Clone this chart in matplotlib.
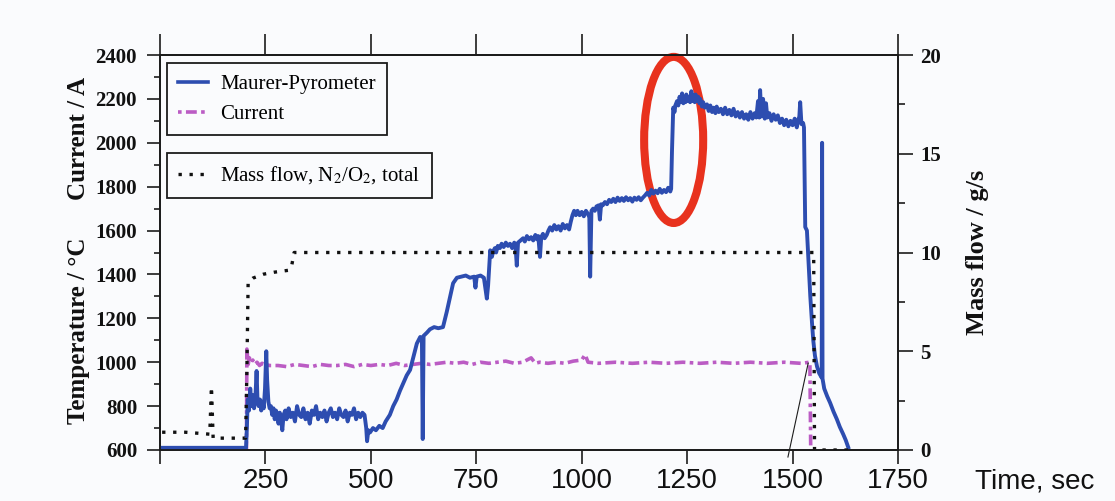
import matplotlib
matplotlib.use('Agg')
import matplotlib.pyplot as plt
from matplotlib.patches import Ellipse
from matplotlib.lines import Line2D

plt.rcParams['mathtext.fontset'] = 'stix'

# ---------------- data ----------------
# Maurer-Pyrometer temperature, (time s, degC)
temp_points = [
    (0, 610), (204, 610), (206, 700), (208, 830), (211, 780), (214, 880), (217, 800), (220, 850), (223, 790),
    (226, 830), (229, 960), (231, 840), (234, 800), (237, 830), (240, 780), (243, 820), (246, 790), (249, 880),
    (252, 1050), (254, 920), (257, 820), (260, 790), (263, 800), (266, 760), (269, 790), (272, 740), (275, 780),
    (278, 760), (281, 720), (284, 770), (287, 740), (290, 690), (293, 760), (297, 780), (300, 740), (305, 790),
    (310, 750), (315, 770), (320, 730), (325, 800), (330, 760), (335, 750), (340, 790), (345, 740), (350, 770),
    (355, 720), (360, 780), (365, 760), (370, 800), (375, 740), (380, 770), (385, 750), (390, 780), (395, 730),
    (400, 770), (405, 790), (410, 750), (415, 770), (420, 740), (425, 790), (430, 760), (435, 750), (440, 780),
    (445, 730), (450, 770), (455, 760), (460, 790), (465, 740), (470, 770), (475, 750), (480, 770), (485, 760),
    (489, 700), (491, 640), (494, 690), (498, 680), (505, 700), (512, 690), (520, 710), (528, 700), (535, 730),
    (545, 760), (553, 800), (561, 830), (569, 870), (577, 905), (585, 940), (593, 965), (601, 1025), (609, 1085),
    (617, 1115), (621, 1110), (623, 650), (625, 1120), (633, 1135), (640, 1150), (650, 1160), (660, 1155),
    (671, 1160), (676, 1200), (680, 1230), (688, 1300), (695, 1360), (704, 1385), (715, 1390), (725, 1395),
    (735, 1385), (745, 1390), (748, 1340), (751, 1390), (760, 1395), (768, 1385), (772, 1330), (775, 1290),
    (778, 1350), (783, 1510), (787, 1480), (790, 1505), (794, 1520), (797, 1500), (801, 1530), (806, 1520),
    (810, 1540), (815, 1525), (820, 1545), (825, 1530), (830, 1540), (835, 1520), (840, 1545), (843, 1530),
    (846, 1440), (849, 1545), (855, 1555), (861, 1565), (865, 1550), (870, 1575), (875, 1560), (880, 1570),
    (885, 1555), (890, 1580), (894, 1560), (897, 1575), (901, 1480), (904, 1570), (908, 1585), (912, 1565),
    (917, 1580), (921, 1600), (925, 1615), (930, 1600), (935, 1625), (940, 1605), (945, 1620), (950, 1600),
    (955, 1630), (960, 1610), (965, 1625), (970, 1605), (974, 1640), (978, 1670), (982, 1690), (986, 1670),
    (990, 1690), (995, 1670), (1000, 1685), (1005, 1665), (1010, 1690), (1015, 1675), (1018, 1660), (1020, 1390),
    (1023, 1690), (1027, 1700), (1031, 1690), (1035, 1710), (1040, 1715), (1043, 1650), (1046, 1720),
    (1050, 1715), (1055, 1730), (1060, 1720), (1065, 1740), (1070, 1730), (1075, 1745), (1080, 1730),
    (1085, 1750), (1090, 1735), (1095, 1748), (1100, 1735), (1105, 1752), (1110, 1738), (1115, 1748),
    (1120, 1732), (1125, 1750), (1130, 1740), (1135, 1752), (1140, 1738), (1145, 1750), (1150, 1760),
    (1155, 1772), (1160, 1760), (1165, 1785), (1170, 1768), (1175, 1782), (1180, 1770), (1185, 1790),
    (1190, 1772), (1195, 1785), (1200, 1775), (1205, 1795), (1210, 1778), (1212, 1790), (1214, 1960),
    (1217, 2160), (1220, 2140), (1222, 2170), (1226, 2190), (1229, 2170), (1232, 2210), (1235, 2185),
    (1238, 2225), (1241, 2180), (1243, 2205), (1246, 2185), (1248, 2220), (1251, 2190), (1254, 2210),
    (1257, 2185), (1260, 2235), (1263, 2190), (1265, 2215), (1268, 2185), (1270, 2220), (1273, 2190),
    (1276, 2210), (1279, 2180), (1281, 2200), (1285, 2165), (1288, 2185), (1292, 2160), (1297, 2175),
    (1301, 2145), (1305, 2170), (1309, 2140), (1313, 2160), (1317, 2135), (1320, 2165), (1325, 2140),
    (1330, 2155), (1335, 2130), (1340, 2160), (1345, 2130), (1350, 2150), (1355, 2125), (1360, 2155),
    (1365, 2120), (1370, 2140), (1375, 2115), (1380, 2140), (1385, 2110), (1390, 2130), (1395, 2105),
    (1400, 2140), (1405, 2110), (1410, 2135), (1414, 2115), (1418, 2190), (1421, 2115), (1423, 2240),
    (1426, 2120), (1430, 2200), (1434, 2110), (1437, 2180), (1440, 2115), (1445, 2135), (1450, 2100),
    (1455, 2130), (1460, 2105), (1465, 2125), (1470, 2090), (1475, 2110), (1480, 2080), (1485, 2105),
    (1490, 2075), (1495, 2100), (1500, 2080), (1505, 2110), (1510, 2070), (1513, 2100), (1516, 2120),
    (1518, 2185), (1521, 2085), (1525, 2090), (1527, 2070), (1530, 1616), (1534, 1600), (1538, 1450),
    (1542, 1300), (1546, 1180), (1549, 1100), (1553, 1030), (1558, 980), (1563, 950), (1569, 930),
    (1570, 2000), (1571, 925), (1575, 880), (1582, 845), (1589, 815), (1597, 775), (1605, 740), (1612, 705),
    (1620, 672), (1626, 645), (1632, 612),
]

# Current, (time s, A)
current_points = [
    (200, 600), (205, 600), (206, 1060), (209, 990), (212, 1020), (216, 1000), (220, 1010), (225, 990),
    (230, 1000), (236, 985), (242, 995), (250, 990), (260, 985), (280, 985), (300, 980), (320, 990), (340, 985),
    (360, 980), (380, 990), (400, 985), (420, 985), (440, 990), (460, 980), (480, 990), (500, 985), (520, 990),
    (540, 985), (560, 995), (580, 985), (600, 990), (620, 995), (640, 990), (660, 995), (680, 1000), (700, 995),
    (720, 1000), (740, 990), (760, 1000), (780, 995), (800, 1000), (820, 1005), (840, 995), (860, 1000),
    (880, 1020), (890, 995), (900, 1000), (920, 995), (940, 1000), (960, 995), (980, 1005), (1000, 1010),
    (1008, 1035), (1015, 1000), (1040, 995), (1080, 1000), (1120, 995), (1160, 1000), (1200, 995), (1240, 1000),
    (1280, 995), (1320, 1000), (1360, 995), (1400, 1000), (1440, 995), (1480, 1000), (1520, 995), (1541, 1000),
    (1543, 600),
]

# Mass flow N2/O2 total, (time s, g/s)
flow_points = [
    (5, 0.9), (60, 0.9), (118, 0.8), (122, 3.2), (126, 0.6), (203, 0.6), (206, 4.0), (209, 8.5), (220, 8.7),
    (245, 8.9), (270, 9.0), (305, 9.1), (312, 9.3), (318, 10.0), (1550, 10.0), (1552, 0.0), (1632, 0.0),
]

guide_t = [1489, 1537]
guide_v = [568, 996]

xtick_vals = [0, 250, 500, 750, 1000, 1250, 1500, 1750]
xtick_labels = ['', '250', '500', '750', '1000', '1250', '1500', '1750']
ytick_left = [600, 800, 1000, 1200, 1400, 1600, 1800, 2000, 2200, 2400]
ytick_left_minor = [700, 900, 1100, 1300, 1500, 1700, 1900, 2100, 2300]
ytick_right = [0, 5, 10, 15, 20]
ytick_right_minor = [2.5, 7.5, 12.5, 17.5]

highlight_center = (1218, 2013)
highlight_size = (140, 757)

temp_t, temp_v = zip(*temp_points)
cur_t, cur_v = zip(*current_points)
flow_t, flow_v = zip(*flow_points)

# ---------------- style ----------------
bg = '#fafbfd'
blue = '#2d4db0'
magenta = '#bb5cc4'
red = '#e8321e'
ink = '#1c1c1c'
serif = 'Liberation Serif'
sans = 'Liberation Sans'

fig = plt.figure(figsize=(11.15, 5.01), dpi=100)
fig.patch.set_facecolor(bg)
ax = fig.add_axes([0.1435, 0.1018, 0.6619, 0.7884])
ax.set_facecolor(bg)

ax.plot(cur_t, cur_v, color=magenta, lw=2.6, ls=(0, (3, 1.2, 1, 1.2)), zorder=2)
ax.plot(temp_t, temp_v, color=blue, lw=2.8, zorder=3)
ax.plot(guide_t, guide_v, color=ink, lw=0.8, clip_on=False, zorder=2)
ax.add_patch(Ellipse(highlight_center, highlight_size[0], highlight_size[1], fill=False,
                     edgecolor=red, lw=5.8, clip_on=False, zorder=2.5))

ax.set_xlim(0, 1750)
ax.set_ylim(600, 2400)
ax.set_xticks(xtick_vals)
ax.set_xticklabels(xtick_labels, fontfamily=sans, fontsize=20)
ax.set_yticks(ytick_left)
ax.set_yticks(ytick_left_minor, minor=True)
ax.set_yticklabels([str(v) for v in ytick_left], fontfamily=serif, fontweight='bold', fontsize=15)
ax.tick_params(axis='x', which='major', direction='out', length=10, width=1.2, pad=3,
               color=ink, labelcolor='#111')
ax.tick_params(axis='y', which='major', direction='out', length=9.5, width=1.2, pad=7,
               color=ink, labelcolor='#111')
ax.tick_params(axis='y', which='minor', direction='out', length=4, width=1.2, color=ink)
for s in ax.spines.values():
    s.set_color(ink)
    s.set_linewidth(1.3)

top = ax.secondary_xaxis('top')
top.set_xticks(xtick_vals)
top.set_xticklabels([])
top.tick_params(direction='out', length=15, width=1.2, color=ink)
top.spines['top'].set_color(ink)
top.spines['top'].set_linewidth(1.3)

ax.set_ylabel('Temperature / \u00b0C      Current / A', fontfamily=serif, fontweight='bold',
              fontsize=18, color='#111')
ax.yaxis.set_label_coords(-0.111, 0.506)
ax.yaxis.label.set_va('center')
ax.yaxis.label.set_ha('center')

ax2 = ax.twinx()
ax2.set_facecolor('none')
ax2.plot(flow_t, flow_v, color='#111', lw=2.4, ls=(0, (1, 2.3)), zorder=4)
ax2.set_ylim(0, 20)
ax2.set_yticks(ytick_right)
ax2.set_yticks(ytick_right_minor, minor=True)
ax2.set_yticklabels([str(v) for v in ytick_right], fontfamily=serif, fontweight='bold', fontsize=15)
ax2.tick_params(axis='y', which='major', direction='out', length=11, width=1.2, pad=5,
                color=ink, labelcolor='#111')
ax2.tick_params(axis='y', which='minor', direction='out', length=5, width=1.2, color=ink)
for s in ax2.spines.values():
    s.set_color(ink)
    s.set_linewidth(1.3)
ax2.set_ylabel('Mass flow / g/s', fontfamily=serif, fontweight='bold', fontsize=19, color='#111')
ax2.yaxis.set_label_coords(1.108, 0.5)
ax2.yaxis.label.set_va('center')
ax2.yaxis.label.set_ha('center')

leg_props = dict(family=serif, size=15)
h1 = Line2D([], [], color=blue, lw=2.6)
h2 = Line2D([], [], color=magenta, lw=2.6, ls=(0, (1, 1.2, 3, 1.2)))
h3 = Line2D([], [], color='#111', lw=2.4, ls=(0, (1, 2.3)))
leg1 = ax2.legend([h1, h2], ['Maurer-Pyrometer', 'Current'], loc='upper left',
                  bbox_to_anchor=(0.0095, 0.98), borderaxespad=0, prop=leg_props,
                  fancybox=False, edgecolor=ink, facecolor=bg, framealpha=1,
                  handlelength=1.4, handletextpad=0.6, borderpad=0.55, labelspacing=0.5)
leg1.get_frame().set_linewidth(1.3)
ax2.add_artist(leg1)
leg2 = ax2.legend([h3], ['Mass flow, N$_2$/O$_2$, total'], loc='upper left',
                  bbox_to_anchor=(0.0095, 0.752), borderaxespad=0, prop=leg_props,
                  fancybox=False, edgecolor=ink, facecolor=bg, framealpha=1,
                  handlelength=1.4, handletextpad=0.6, borderpad=0.55)
leg2.get_frame().set_linewidth(1.3)

fig.text(975 / 1115, 1 - 481 / 501, 'Time, sec', fontfamily=sans, fontsize=20,
         va='center', ha='left', color='#111')

fig.savefig('out.png', dpi=100, facecolor=bg)
